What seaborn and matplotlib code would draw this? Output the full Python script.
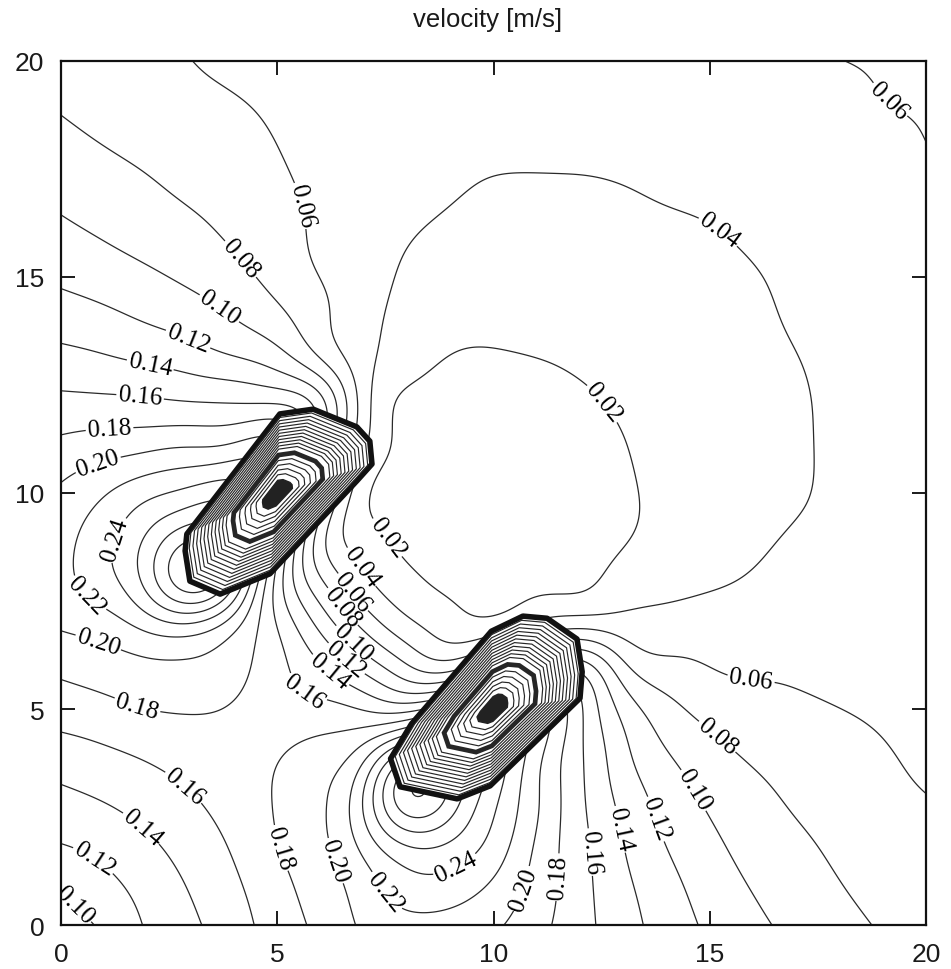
import numpy as np
import matplotlib
matplotlib.use("Agg")
import matplotlib.pyplot as plt
import matplotlib.tri as mtri
from matplotlib.patches import Polygon
import seaborn as sns

# Flow speed [m/s] sampled on a 1 m grid: one list per row, y = 0 ... 20, x = 0 ... 20
x_nodes = list(range(21))
y_nodes = list(range(21))

speed_y00 = [0.094, 0.102, 0.123, 0.136, 0.152, 0.169, 0.185, 0.204, 0.214, 0.212, 0.204, 0.187, 0.167, 0.148, 0.131, 0.116, 0.104, 0.095, 0.086, 0.078, 0.074]
speed_y01 = [0.102, 0.115, 0.128, 0.142, 0.157, 0.174, 0.190, 0.210, 0.234, 0.234, 0.219, 0.193, 0.167, 0.144, 0.126, 0.110, 0.098, 0.089, 0.080, 0.073, 0.070]
speed_y02 = [0.123, 0.128, 0.138, 0.150, 0.163, 0.181, 0.195, 0.229, 0.270, 0.262, 0.237, 0.197, 0.166, 0.139, 0.118, 0.103, 0.092, 0.083, 0.075, 0.068, 0.065]
speed_y03 = [0.136, 0.142, 0.150, 0.159, 0.169, 0.182, 0.196, 0.239, 0.340, 0.300, 0.245, 0.203, 0.163, 0.133, 0.111, 0.096, 0.086, 0.076, 0.070, 0.064, 0.060]
speed_y04 = [0.152, 0.157, 0.163, 0.169, 0.171, 0.178, 0.189, 0.205, 0.280, 0.280, 0.260, 0.205, 0.163, 0.124, 0.100, 0.087, 0.076, 0.070, 0.065, 0.061, 0.057]
speed_y05 = [0.169, 0.174, 0.181, 0.182, 0.178, 0.165, 0.167, 0.159, 0.142, 0.180, 0.200, 0.220, 0.165, 0.113, 0.087, 0.072, 0.066, 0.063, 0.060, 0.058, 0.055]
speed_y06 = [0.185, 0.190, 0.195, 0.196, 0.189, 0.167, 0.143, 0.112, 0.080, 0.055, 0.100, 0.120, 0.145, 0.080, 0.064, 0.059, 0.057, 0.057, 0.055, 0.055, 0.053]
speed_y07 = [0.204, 0.210, 0.229, 0.239, 0.205, 0.159, 0.112, 0.072, 0.040, 0.028, 0.016, 0.040, 0.044, 0.045, 0.047, 0.048, 0.049, 0.052, 0.051, 0.052, 0.051]
speed_y08 = [0.214, 0.234, 0.270, 0.340, 0.280, 0.142, 0.080, 0.040, 0.025, 0.012, 0.010, 0.012, 0.012, 0.028, 0.032, 0.037, 0.041, 0.047, 0.048, 0.049, 0.049]
speed_y09 = [0.212, 0.234, 0.262, 0.300, 0.280, 0.180, 0.055, 0.028, 0.012, 0.006, 0.006, 0.008, 0.011, 0.017, 0.027, 0.032, 0.036, 0.042, 0.044, 0.047, 0.049]
speed_y10 = [0.204, 0.219, 0.237, 0.245, 0.260, 0.200, 0.100, 0.016, 0.010, 0.006, 0.004, 0.007, 0.010, 0.016, 0.026, 0.028, 0.033, 0.038, 0.043, 0.046, 0.049]
speed_y11 = [0.187, 0.193, 0.197, 0.203, 0.205, 0.220, 0.120, 0.040, 0.012, 0.008, 0.007, 0.009, 0.012, 0.019, 0.026, 0.029, 0.034, 0.038, 0.043, 0.046, 0.049]
speed_y12 = [0.167, 0.167, 0.166, 0.163, 0.163, 0.165, 0.145, 0.044, 0.012, 0.011, 0.010, 0.012, 0.017, 0.022, 0.026, 0.030, 0.034, 0.038, 0.043, 0.046, 0.049]
speed_y13 = [0.148, 0.144, 0.139, 0.133, 0.124, 0.113, 0.080, 0.045, 0.028, 0.017, 0.016, 0.019, 0.022, 0.024, 0.028, 0.032, 0.035, 0.039, 0.045, 0.048, 0.050]
speed_y14 = [0.131, 0.126, 0.118, 0.111, 0.100, 0.087, 0.064, 0.047, 0.032, 0.027, 0.026, 0.026, 0.026, 0.028, 0.030, 0.034, 0.037, 0.042, 0.046, 0.049, 0.051]
speed_y15 = [0.116, 0.110, 0.103, 0.096, 0.087, 0.072, 0.059, 0.048, 0.037, 0.032, 0.028, 0.029, 0.030, 0.032, 0.034, 0.036, 0.039, 0.043, 0.047, 0.050, 0.053]
speed_y16 = [0.104, 0.098, 0.092, 0.086, 0.076, 0.066, 0.057, 0.049, 0.041, 0.036, 0.033, 0.034, 0.034, 0.035, 0.037, 0.039, 0.042, 0.045, 0.049, 0.051, 0.055]
speed_y17 = [0.095, 0.089, 0.083, 0.076, 0.070, 0.063, 0.057, 0.052, 0.047, 0.042, 0.038, 0.038, 0.038, 0.039, 0.042, 0.043, 0.045, 0.048, 0.051, 0.054, 0.057]
speed_y18 = [0.086, 0.080, 0.075, 0.070, 0.065, 0.060, 0.055, 0.051, 0.048, 0.044, 0.043, 0.043, 0.043, 0.045, 0.046, 0.047, 0.049, 0.051, 0.054, 0.056, 0.060]
speed_y19 = [0.078, 0.073, 0.068, 0.064, 0.061, 0.058, 0.055, 0.052, 0.049, 0.047, 0.046, 0.046, 0.046, 0.048, 0.049, 0.050, 0.051, 0.054, 0.056, 0.060, 0.061]
speed_y20 = [0.074, 0.070, 0.065, 0.060, 0.057, 0.055, 0.053, 0.051, 0.049, 0.049, 0.049, 0.049, 0.049, 0.050, 0.051, 0.053, 0.055, 0.057, 0.060, 0.061, 0.063]

speed_rows = [speed_y00, speed_y01, speed_y02, speed_y03, speed_y04, speed_y05, speed_y06,
              speed_y07, speed_y08, speed_y09, speed_y10, speed_y11, speed_y12, speed_y13,
              speed_y14, speed_y15, speed_y16, speed_y17, speed_y18, speed_y19, speed_y20]

# outlines and centres of the two bodies [m]
body1_x = [2.87, 2.91, 5.06, 5.83, 6.84, 7.14, 7.19, 6.84, 4.83, 3.68, 2.98]
body1_y = [8.66, 9.05, 11.83, 11.94, 11.53, 11.20, 10.67, 10.28, 8.13, 7.66, 7.96]
body1_centre = (5.00, 10.00)
body2_x = [7.62, 8.10, 9.95, 10.68, 11.24, 11.93, 12.05, 12.00, 9.92, 9.16, 7.84]
body2_y = [3.85, 4.65, 6.80, 7.15, 7.10, 6.62, 5.86, 5.25, 3.22, 2.92, 3.20]
body2_centre = (10.00, 5.00)

# labelled levels and the (x, y) spots of their inline labels
label_positions = {
    0.02: [(12.99, 12.45), (7.86, 9.21)],
    0.04: [(15.28, 16.16), (7.17, 8.45)],
    0.06: [(5.71, 16.69), (19.47, 19.42), (6.94, 7.85), (15.98, 5.97)],
    0.08: [(4.18, 15.44), (6.50, 7.36), (15.28, 4.49)],
    0.10: [(3.70, 14.33), (6.68, 6.46), (0.49, 0.65), (14.80, 3.22)],
    0.12: [(3.05, 13.84), (6.36, 5.88), (0.95, 1.81), (14.24, 2.62)],
    0.14: [(2.13, 13.31), (6.03, 5.65), (1.90, 2.29), (13.20, 2.27)],
    0.16: [(1.85, 12.45), (5.57, 5.30), (2.94, 3.31), (12.51, 1.71)],
    0.18: [(1.11, 11.74), (1.87, 5.42), (5.39, 1.88), (11.82, 1.09)],
    0.20: [(0.76, 10.95), (0.95, 6.81), (6.27, 1.46), (10.96, 0.74)],
    0.22: [(0.88, 7.94), (7.84, 1.00)],
    0.24: [(1.55, 8.82), (9.06, 1.48)],
}
# further unlabelled levels, every 0.02 m/s
dense_levels = np.round(np.arange(0.26, 0.401, 0.02), 2)

# nested outlines drawn inside each body: (scale, line width)
body_rings = [(0.955, 0.85), (0.915, 0.85), (0.875, 0.85), (0.835, 0.85), (0.795, 0.85),
              (0.755, 0.85), (0.715, 0.85), (0.675, 0.85), (0.635, 0.85), (0.595, 0.85),
              (0.555, 0.85), (0.48, 3.4), (0.41, 0.85), (0.35, 0.85), (0.29, 0.85),
              (0.23, 0.85)]

tick_values = [0, 5, 10, 15, 20]

sns.set_theme(style="ticks")
plt.rcParams["font.family"] = ["Liberation Serif", "DejaVu Serif"]
sans = ["Liberation Sans", "DejaVu Sans"]

fig = plt.figure(figsize=(9.51, 9.70), dpi=100)
ax = fig.add_axes([61 / 951, 1 - 926 / 970, 865 / 951, 864 / 970])
ax.set_xlim(0, 20)
ax.set_ylim(0, 20)

# smooth cubic surface through the grid samples, evaluated on a 5 cm mesh
gx, gy = np.meshgrid(np.array(x_nodes, float), np.array(y_nodes, float))
speed = np.array(speed_rows, dtype=float)
n = len(x_nodes)
cells = []
for j in range(len(y_nodes) - 1):
    for i in range(n - 1):
        a = j * n + i
        cells.append([a, a + 1, a + n + 1])
        cells.append([a, a + n + 1, a + n])
triang = mtri.Triangulation(gx.ravel(), gy.ravel(), np.array(cells))
interp = mtri.CubicTriInterpolator(triang, speed.ravel(), kind="min_E")
mesh = np.linspace(1e-6, 20 - 1e-6, 401)
mx, my = np.meshgrid(mesh, mesh)
surface = np.asarray(interp(mx, my).filled(0.0))

# light Gaussian smoothing of the contouring surface (sigma = 0.4 m);
# odd reflection at the frame keeps the edge gradients unbiased
half = 24
kernel = np.exp(-0.5 * (np.arange(-half, half + 1) / 8.0) ** 2)
kernel /= kernel.sum()
padded = np.pad(surface, half, mode="reflect", reflect_type="odd")
padded = np.apply_along_axis(lambda r: np.convolve(r, kernel, mode="valid"), 1, padded)
surface = np.apply_along_axis(lambda c: np.convolve(c, kernel, mode="valid"), 0, padded)

line_kw = dict(colors="#2a2a2a", linewidths=0.9)
ax.contour(mx, my, surface, levels=dense_levels, **line_kw)

for lev, spots in label_positions.items():
    cs = ax.contour(mx, my, surface, levels=[lev], **line_kw)
    cs.clabel(manual=spots, inline=True, inline_spacing=2,
              fmt="%.2f", fontsize=18, colors="black")

# the two bodies, drawn over the field
for bx, by, bc in [(body1_x, body1_y, body1_centre), (body2_x, body2_y, body2_centre)]:
    pts = np.column_stack([bx, by])
    centre = np.array(bc)
    ax.add_patch(Polygon(pts, closed=True, facecolor="white", edgecolor="#111111",
                         linewidth=4.0, joinstyle="round", zorder=3))
    for scale, lw in body_rings:
        ax.add_patch(Polygon(centre + scale * (pts - centre), closed=True, fill=False,
                             edgecolor="#262626", linewidth=lw, zorder=4))
    ax.add_patch(Polygon(centre + 0.16 * (pts - centre), closed=True,
                         facecolor="#222222", edgecolor="#222222", zorder=4))

ax.set_xticks(tick_values)
ax.set_yticks(tick_values)
ax.tick_params(direction="in", length=10, width=1.4, top=True, right=True,
               labelsize=19, pad=12, colors="#1a1a1a")
for t in ax.get_xticklabels() + ax.get_yticklabels():
    t.set_fontfamily(sans)
for s in ax.spines.values():
    s.set_linewidth(1.6)
    s.set_color("#111111")
    s.set_zorder(6)
ax.grid(False)

fig.text(0.513, 0.979, "velocity [m/s]", ha="center", va="center",
         fontsize=18.5, family=sans, color="#1a1a1a")

fig.savefig("out.png", dpi=100)
